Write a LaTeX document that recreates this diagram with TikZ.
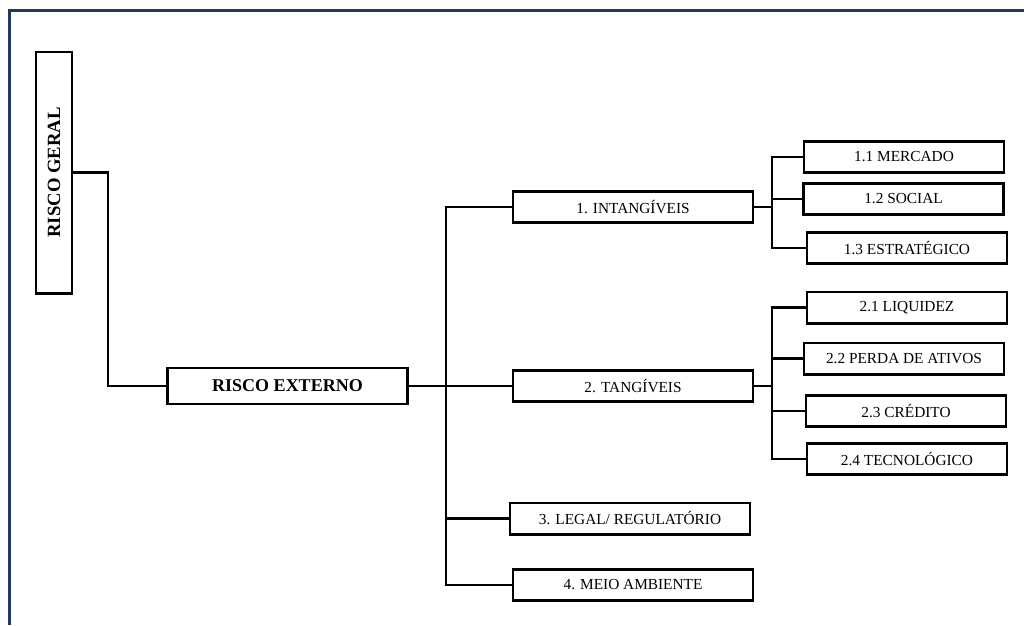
\documentclass[tikz,border=0pt]{standalone}
\usepackage{fontspec}
\setmainfont{Liberation Serif}
\definecolor{framecol}{RGB}{31,58,93}
\begin{document}
\begin{tikzpicture}[x=0.75pt, y=-0.75pt, b/.style={draw, line width=2pt, minimum width=180pt, minimum height=23.5pt, inner sep=0pt, font=\fontsize{11.5}{13}\selectfont}, sb/.style={b, minimum width=150pt}, ln/.style={line width=2.2pt}]
        \useasboundingbox (0,0) rectangle (1024,625);
        \draw[framecol, line width=2.3pt] (9.5,625) -- (9.5,10.5) -- (1024,10.5);
        \node[b, minimum width=27pt, minimum height=181pt, font=\fontsize{14}{16}\selectfont\bfseries] (geral) at (54,172.5) {\rotatebox{90}{RISCO GERAL}};
        \node[b, minimum height=27pt, font=\fontsize{13.5}{16}\selectfont\bfseries] (externo) at (287.5,386) {RISCO EXTERNO};
        \node[b] (intang) at (633,207) {1. INTANGÍVEIS};
        \node[b] (tang) at (633,386) {2. TANGÍVEIS};
        \node[b] (legal) at (630,518.5) {3. LEGAL/ REGULATÓRIO};
        \node[b] (meio) at (633,585) {4. MEIO AMBIENTE};
        \foreach \t/\x/\y [count=\i] in {1.1 MERCADO/904/157, 1.2 SOCIAL/903.5/199, 1.3 ESTRATÉGICO/907/248}
          \node[sb] (m1\i) at (\x,\y) {\t};
        \foreach \t/\x/\y [count=\i] in {2.1 LIQUIDEZ/907/307.5, 2.2 PERDA DE ATIVOS/904/358.5, 2.3 CRÉDITO/906/411, 2.4 TECNOLÓGICO/907/459}
          \node[sb] (m2\i) at (\x,\y) {\t};
        \coordinate (g) at (108,0);
        \coordinate (t) at (446,0);
        \coordinate (u) at (772,0);
        \draw[ln] (geral.east) -| (externo.west -| g) -- (externo.west);
        \draw[ln] (externo.east) -- (tang.west);
        \draw[ln] (intang.west) -- (intang.west -| t) -- (meio.west -| t) -- (meio.west);
        \draw[ln] (legal.west) -- (legal.west -| t);
        \draw[ln] (intang.east) -- (intang.east -| u);
        \draw[ln] (m11.west) -- (m11.west -| u) -- (m13.west -| u) -- (m13.west);
        \draw[ln] (m12.west) -- (m12.west -| u);
        \draw[ln] (tang.east) -- (tang.east -| u);
        \draw[ln] (m21.west) -- (m21.west -| u) -- (m24.west -| u) -- (m24.west);
        \foreach \i in {2,3} \draw[ln] (m2\i.west) -- (m2\i.west -| u);
      \end{tikzpicture}
\end{document}
